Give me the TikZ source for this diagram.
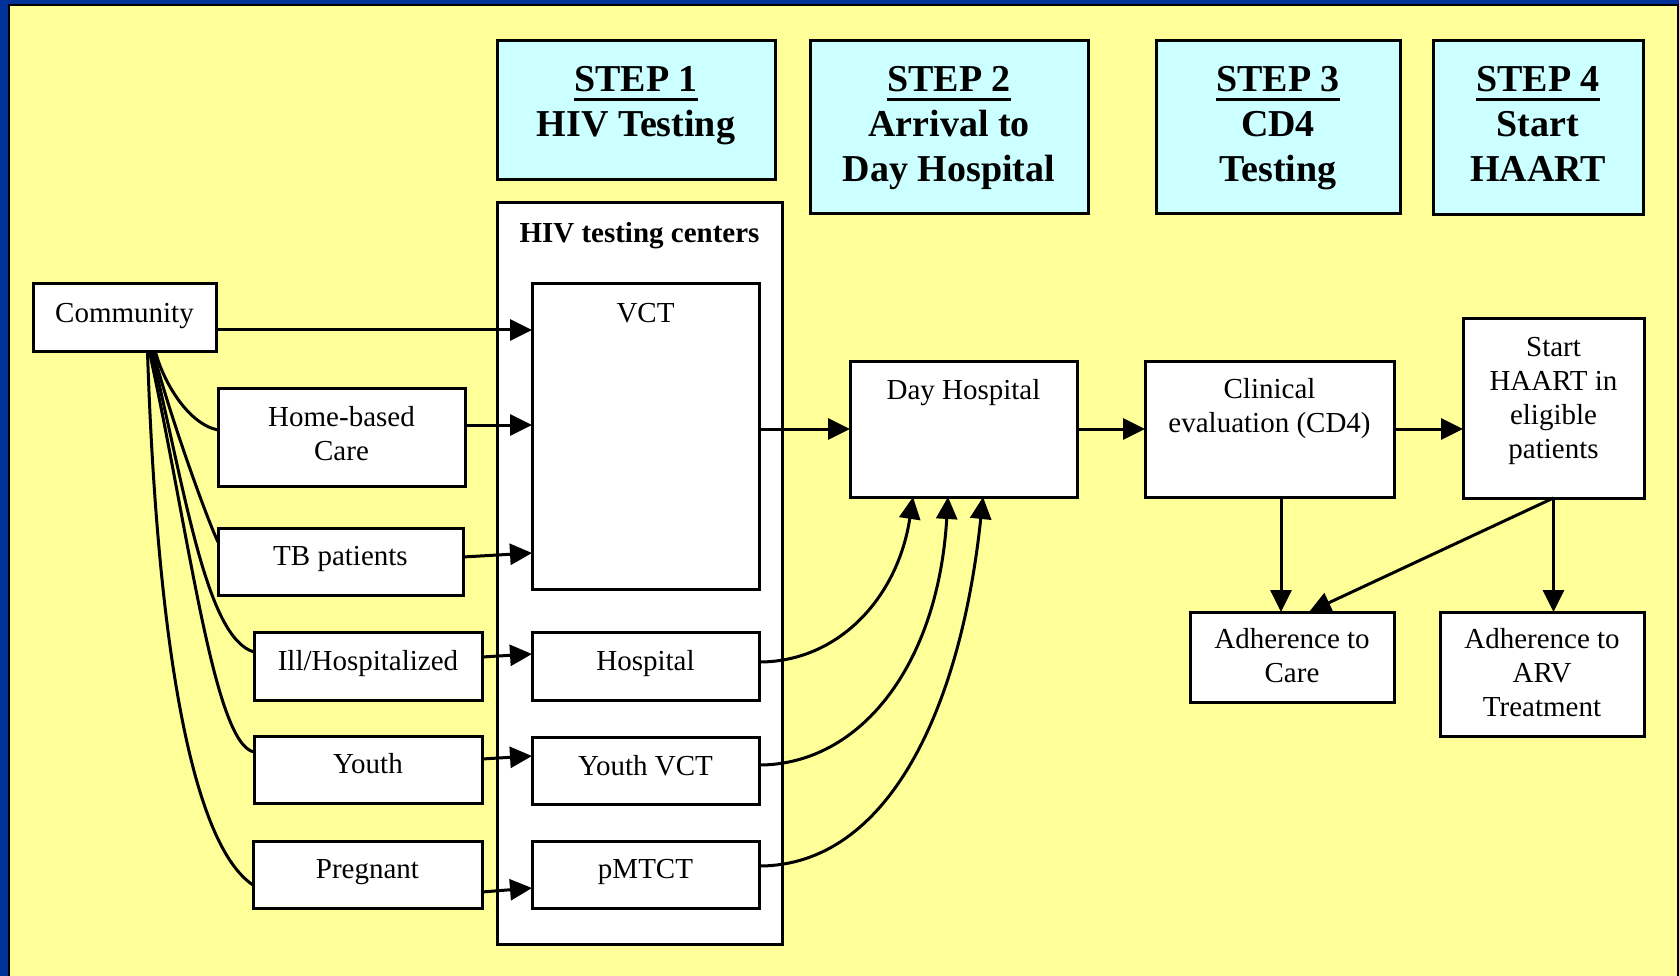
\documentclass[tikz,border=0pt]{standalone}
\usepackage{fontspec}
\setmainfont{Liberation Serif}
\usetikzlibrary{arrows.meta,calc}
\definecolor{bgyellow}{HTML}{FFFF99}
\definecolor{stepcyan}{HTML}{CCFFFF}
\definecolor{frameblue}{HTML}{003399}
\newcommand{\bx}[4]{\parbox[b][#2][t]{#1}{\centering\noindent\rule{0pt}{#3}#4}}
\newcommand{\stepu}[1]{\leavevmode\setbox0=\hbox{#1}\rlap{\rule[-9.5pt]{\wd0}{3pt}}\box0}
\tikzset{
  bbox/.style={draw=black, line width=3pt, fill=white, inner sep=0pt, outer sep=0pt,
    anchor=north west, font=\fontsize{29}{34}\selectfont},
  stepbox/.style={bbox, fill=stepcyan, font=\fontsize{38}{45}\selectfont\bfseries},
  link/.style={line width=3pt, -{Triangle[length=22pt,width=21pt]}},
  fan/.style={line width=3pt},
}
\begin{document}
\begin{tikzpicture}[x=1pt,y=-1pt]
\useasboundingbox (0,0) rectangle (1679,976);
\clip (0,0) rectangle (1679,976);
\fill[frameblue] (0,0) rectangle (1679,976);
\draw[line width=2pt, fill=bgyellow] (9,5) rectangle (1678,1000);

% step headers
\node[stepbox] (s1) at (497,41) {\bx{278pt}{139pt}{51pt}{\stepu{STEP 1}\\HIV Testing}};
\node[stepbox] (s2) at (810,41) {\bx{278pt}{173pt}{51pt}{\stepu{STEP 2}\\Arrival to\\Day Hospital}};
\node[stepbox] (s3) at (1156,41) {\bx{244pt}{173pt}{51pt}{\stepu{STEP 3}\\CD4\\Testing}};
\node[stepbox] (s4) at (1433,41) {\bx{210pt}{174pt}{51pt}{\stepu{STEP 4}\\Start\\HAART}};

% HIV testing centers
\node[bbox] (hivc) at (497,203) {\bx{285pt}{741pt}{39pt}{\bfseries HIV testing centers}};
\node[bbox] (vct) at (532,284) {\bx{227pt}{305pt}{38pt}{VCT}};
\node[bbox] (hosp) at (532,632) {\bx{227pt}{68pt}{38pt}{Hospital}};
\node[bbox] (yvct) at (532,737) {\bx{227pt}{67pt}{38pt}{Youth VCT}};
\node[bbox] (pmtct) at (532,841) {\bx{227pt}{67pt}{37pt}{pMTCT}};

% sources
\node[bbox] (comm) at (33,284) {\bx{183pt}{68pt}{38.7pt}{Community}};
\node[bbox] (home) at (218,388) {\bx{247pt}{98pt}{38pt}{Home-based\\Care}};
\node[bbox] (tb) at (218,528) {\bx{245pt}{67pt}{37pt}{TB patients}};
\node[bbox] (ill) at (254,632) {\bx{228pt}{68pt}{38pt}{Ill/Hospitalized}};
\node[bbox] (youth) at (254,736) {\bx{228pt}{67pt}{37pt}{Youth}};
\node[bbox] (preg) at (253,841) {\bx{229pt}{67pt}{37pt}{Pregnant}};

% right side
\node[bbox] (day) at (850,361) {\bx{227pt}{136pt}{38.6pt}{Day Hospital}};
\node[bbox] (clin) at (1145,361) {\bx{249pt}{136pt}{37pt}{Clinical\\evaluation (CD4)}};
\node[bbox] (start) at (1463,319) {\bx{181pt}{179pt}{37pt}{Start\\HAART in\\eligible\\patients}};
\node[bbox] (adhc) at (1190,612) {\bx{204pt}{90pt}{36pt}{Adherence to\\Care}};
\node[bbox] (adha) at (1440,612) {\bx{204pt}{124pt}{36pt}{Adherence to\\ARV\\Treatment}};

% community fan
\draw[fan] ([xshift=31pt]comm.south) .. controls +(8,30) and +(-30,-6) .. ([yshift=7pt]home.west);
\draw[fan] ([xshift=29pt]comm.south) .. controls +(12,50) and +(-14,-30) .. ([yshift=19.5pt]tb.west);
\draw[fan] ([xshift=27pt]comm.south) .. controls +(34,140) and +(-48,-14) .. ([yshift=14pt]ill.west);
\draw[fan] ([xshift=25pt]comm.south) .. controls +(40,184) and +(-40,-8) .. ([yshift=17.5pt]youth.west);
\draw[fan] ([xshift=23pt]comm.south) .. controls +(10,300) and +(-60,-40) .. ([yshift=-10.5pt]preg.west);

% into testing centers
\draw[link] ([yshift=-12pt]comm.east) -- ([yshift=-12pt]comm.east -| vct.west);
\draw[link] ([yshift=12pt]home.east) -- ([yshift=12pt]home.east -| vct.west);
\draw[link] ([yshift=4.5pt]tb.east) -- ([yshift=8.5pt]tb.east -| vct.west);
\draw[link] ([yshift=9pt]ill.east) -- ([yshift=12pt]ill.east -| hosp.west);
\draw[link] ([yshift=10.5pt]youth.east) -- ([yshift=13.5pt]youth.east -| yvct.west);
\draw[link] ([yshift=-17.5pt]preg.east) -- ([yshift=-13.5pt]preg.east -| pmtct.west);

% to day hospital
\draw[link] ([yshift=7.5pt]vct.east) -- (day.west);
\draw[link] ([yshift=4pt]hosp.east) .. controls +(80,0) and +(-15,100) .. ([xshift=-50.5pt]day.south);
\draw[link] ([yshift=5.5pt]yvct.east) .. controls +(100,0) and +(-10,170) .. ([xshift=-15.5pt]day.south);
\draw[link] ([yshift=8.5pt]pmtct.east) .. controls +(130,0) and +(-22,210) .. ([xshift=19.5pt]day.south);

% right flow
\draw[link] (day.east) -- (clin.west);
\draw[link] (clin.east) -- (clin.east -| start.west);
\draw[link] ([xshift=11.5pt]clin.south) -- ([xshift=11.5pt]clin.south |- adhc.north);
\draw[link] (start.south) -- (start.south |- adha.north);
\draw[link] (start.south) -- ([xshift=17pt]adhc.north);
\end{tikzpicture}
\end{document}
